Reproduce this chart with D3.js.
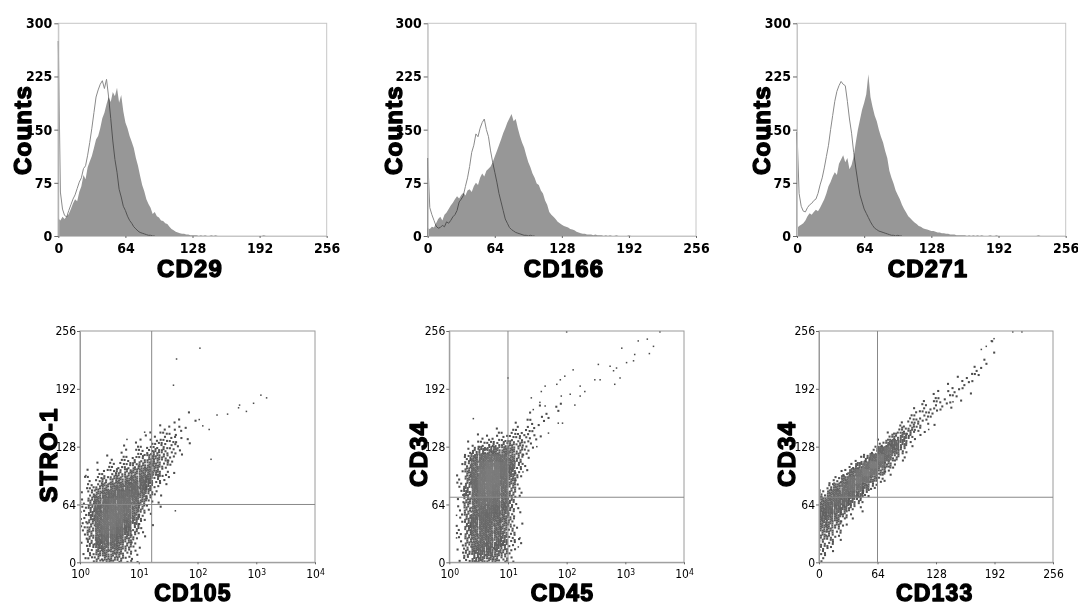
<!DOCTYPE html>
<html>
<head>
<meta charset="utf-8">
<script src="https://cdn.jsdelivr.net/npm/d3@7"></script>
<style>
  body { margin: 0; background: #fff; }
  svg { display: block; }
</style>
</head>
<body>
<svg id="chart" width="1078" height="605"></svg>
<script>
// ---------- Histogram data: counts per 2-channel bin (bin i = channels 2i..2i+2) ----------
const BIN = 2;
const cd29Stained = [25,22,27,24,28,31,38,46,52,49, 62,70,86,80,97,105,113,124,136,141,
  152,166,174,186,196,189,203,197,209,188, 199,176,160,152,141,133,124,110,99,85,
  72,63,52,45,40,31,34,28,26,22, 21,18,17,13,10,8,6,5,4,3, 3,2,2,1,1,1,1,0,1,0,
  1,0,0,1,0,1,0,0,0,0, 0,0,0,0,0,0,0,0,0,0, 0,0,0,0,0,0,0,0,1,0];
const cd29Control = [275,62,38,29,27,36,44,52,58,67, 76,82,95,99,114,132,152,174,196,206,
  214,219,208,221,196,166,134,108,90,66, 55,42,36,28,22,18,13,10,7,5, 4,3,2,1,1,0];

const cd166Stained = [11,10,13,12,18,24,27,22,30,33, 38,43,47,52,56,53,58,61,57,64,
  66,62,70,75,72,82,88,84,92,95, 98,104,112,120,128,136,145,152,160,166,
  172,162,165,152,141,132,125,114,104,97, 88,82,74,72,64,60,50,44,34,30,
  27,24,20,18,16,14,13,12,10,9, 8,6,5,4,3,3,2,2,2,1, 2,1,1,1,0,1,0,1,0,0,
  1,0,0,0,0,0,1,0,0,0];
const cd166Control = [110,40,30,22,14,11,12,15,13,20, 18,22,27,30,36,48,52,57,70,82,
  98,118,128,144,140,152,160,165,150,140, 120,104,90,76,60,48,36,24,18,12,
  9,7,5,4,3,2,1,1,0,1,0];

const cd271Stained = [11,14,16,18,22,28,32,30,34,37, 35,40,46,52,60,70,76,84,90,86,
  102,108,114,104,110,94,100,112,132,150, 164,178,188,200,228,196,182,170,162,150,
  140,132,120,110,92,82,74,64,58,52, 44,38,33,28,25,22,19,17,14,13,
  11,10,9,8,7,7,6,5,5,4, 4,3,3,2,2,2,1,1,1,1, 1,0,1,0,1,0,1,0,1,0,
  0,0,1,0,0,1,0,0,0,0, 0,0,0,0,0,0,0,0,0,0, 0,0,0,0,0,1,0];
const cd271Control = [147,60,42,35,34,40,44,46,50,52, 60,72,82,96,112,128,150,170,190,204,
  212,218,214,212,190,165,145,118,96,76, 58,48,38,32,26,20,15,11,9,7,
  6,5,4,3,2,1,1,0,1,0];

const histTicksY = [0, 75, 150, 225, 300];
const histTicksX = [0, 64, 128, 192, 256];

// ---------- Dot-plot data: event counts per cell ----------
// CD105 (log, 1/8 decade columns from 10^0) vs STRO-1 (8-channel rows from 0), rows listed bottom-up
const stroGrid = [
  [1,4,8,10,10,8,4,2,0,0,0,0,0,0,0,0],
  [1,5,11,14,14,11,6,2,0,0,0,0,0,0,0,0],
  [2,7,15,19,19,15,9,3,1,0,0,0,0,0,0,0],
  [2,8,18,24,24,19,12,5,1,0,0,0,0,0,0,0],
  [3,10,21,28,29,24,16,7,2,0,0,0,0,0,0,0],
  [3,10,22,29,31,28,20,10,3,1,0,0,0,0,0,0],
  [3,10,21,28,31,30,25,14,5,1,0,0,0,0,0,0],
  [3,9,19,26,30,30,27,18,8,2,1,0,0,0,0,0],
  [3,8,16,23,27,28,27,22,12,4,1,0,0,0,0,0],
  [2,6,12,18,22,24,25,24,16,7,2,1,0,0,0,0],
  [1,4,8,12,16,19,20,22,18,10,3,1,0,0,0,0],
  [1,2,4,7,10,12,14,17,19,14,6,2,1,0,0,0],
  [0,1,2,3,5,7,9,12,16,16,10,3,1,0,0,0],
  [0,0,1,1,3,4,5,7,10,14,12,5,2,0,0,0],
  [0,0,0,1,1,2,3,4,6,9,11,8,3,1,0,0],
  [0,0,0,0,0,1,1,2,3,5,8,7,4,1,0,0],
  [0,0,0,0,0,0,1,1,1,2,4,5,4,2,1,0],
  [0,0,0,0,0,0,0,0,1,1,2,3,3,2,1,0],
  [0,0,0,0,0,0,0,0,0,0,1,1,2,2,1,0],
  [0,0,0,0,0,0,0,0,0,0,0,0,1,1,0,1],
  [0,0,0,0,0,0,0,0,0,0,0,0,0,0,1,0]
];
const stroSingles = [[110,237],[44,225],[39,196],[1500,182],[1200,185],[900,176],[680,167],
  [500,171],[520,174],[325,164],[215,163],[170,114],[42,57],[107,158],[158,147],[123,151],
  [1.26,96],[6.3,136],[12.6,144]];

// CD45 (log) vs CD34, rows bottom-up
const cd45Grid = [
  [0,1,5,10,13,12,10,7,2,0,0,0,0,0,0,0],
  [0,2,7,13,17,15,13,9,3,0,0,0,0,0,0,0],
  [0,2,8,16,20,18,15,11,4,1,0,0,0,0,0,0],
  [0,2,9,17,22,20,17,12,5,1,0,0,0,0,0,0],
  [0,2,9,18,22,20,18,13,5,1,0,0,0,0,0,0],
  [0,2,9,18,22,21,19,14,6,1,0,0,0,0,0,0],
  [0,2,9,18,23,22,20,15,6,1,0,0,0,0,0,0],
  [0,2,9,18,24,24,22,16,7,1,0,0,0,0,0,0],
  [0,2,10,20,27,28,25,18,8,1,0,0,0,0,0,0],
  [0,2,11,22,30,32,29,21,9,2,0,0,0,0,0,0],
  [0,2,11,23,32,34,32,24,10,2,0,0,0,0,0,0],
  [0,2,11,23,32,35,33,26,12,3,0,0,0,0,0,0],
  [0,2,10,22,31,34,33,28,14,4,1,0,0,0,0,0],
  [0,1,8,19,28,32,32,28,16,6,1,0,0,0,0,0],
  [0,0,6,14,22,26,26,24,15,7,2,0,0,0,0,0],
  [0,0,2,7,11,13,14,15,13,8,3,1,0,0,0,0],
  [0,0,1,2,3,5,6,7,9,7,4,1,0,0,0,0],
  [0,0,0,1,1,2,2,3,4,5,4,2,1,0,0,0],
  [0,0,0,0,0,0,1,0,1,2,3,2,1,0,0,0],
  [0,0,0,0,0,0,0,0,0,1,1,2,1,1,0,0],
  [0,0,0,0,0,0,0,0,0,0,0,1,1,1,1,0],
  [0,0,0,0,0,0,0,0,0,0,0,0,1,0,1,1]
];
const cd45Singles = [[100,255],[3890,255],[1660,245],[2370,247],[2570,231],[3020,239],[1445,230],
  [1380,223],[1050,221],[870,237],[708,215],[630,212],[550,217],[813,204],[660,197],[347,219],
  [372,202],[302,202],[129,213],[93,206],[78,202],[68,197],[115,186],[170,195],[204,189],
  [170,184],[138,174],[81,184],[72,154],[85,154],[43,195],[37,189],[25,182],[35,177],[27,169],
  [43,173],[49,143],[31,128],[18,100],[15,17],[16,27],[10,204],[1.33,27],[1.33,52],[2.57,159]];

// CD133 (8-channel columns) vs CD34: [first row, counts upward]
const cd133Columns = [
  [0, [3,5,7,10,12,14,16,16,14,6]],
  [1, [2,5,8,11,14,17,20,20,16,6]],
  [3, [3,6,10,14,19,22,22,16,5]],
  [5, [3,8,14,20,25,25,16,4]],
  [6, [2,6,13,22,28,28,16,3]],
  [7, [2,6,15,26,32,28,12,2]],
  [9, [5,14,28,34,26,8]],
  [10, [5,14,28,34,22,5]],
  [11, [4,12,26,32,20,4]],
  [12, [3,10,22,26,14,2]],
  [13, [2,8,16,18,9,1]],
  [14, [2,6,12,12,6,1]],
  [16, [2,6,8,5,1]],
  [17, [2,5,5,3,1]],
  [18, [1,3,4,3,1]],
  [19, [1,3,3,2,1]],
  [20, [1,2,3,1]],
  [21, [1,2,2,1]],
  [21, [1,1,2,1,1]],
  [22, [1,1,2,1]],
  [23, [1,1,2,1]],
  [25, [1,2,1]],
  [26, [1,1,1]],
  [29, [1,1]]
];
const cd133Singles = [[146.6,177.6],[212,255],[222,255],[120,147],[188.5,245],[191.5,247.5],
  [183,239],[177.6,235.6]];

const dotTicksY = [0, 64, 128, 192, 256];
const logTicksX = [1, 10, 100, 1000, 10000];
const linTicksX = [0, 64, 128, 192, 256];

// quadrant gate positions [x, y]
const stroGate = [16.6, 64];
const cd45Gate = [10, 72];
const cd133Gate = [64, 72];

// ---------- drawing ----------
const svg = d3.select('#chart');
const NARROW = '"Liberation Sans Narrow","DejaVu Sans Condensed","Arial Narrow",sans-serif';
const HEAVY = '"Liberation Sans",Arial,"DejaVu Sans",sans-serif';

function heavyText(g, txt, x, y, rotate, size) {
  const t = g.append('text')
    .attr('x', x).attr('y', y)
    .attr('text-anchor', 'middle')
    .attr('font-family', HEAVY).attr('font-weight', 'bold')
    .attr('font-size', size || 24).attr('letter-spacing', 1.2)
    .attr('fill', '#000').attr('stroke', '#000').attr('stroke-width', 1.4)
    .attr('stroke-linejoin', 'round')
    .text(txt);
  if (rotate) t.attr('transform', `rotate(-90 ${x} ${y})`);
  return t;
}

const histPanels = [
  { title: 'CD29', stained: cd29Stained, control: cd29Control, x0: 58.3, x1: 326.7, titleX: 190, countsX: 31 },
  { title: 'CD166', stained: cd166Stained, control: cd166Control, x0: 427.7, x1: 696, titleX: 564, countsX: 401.5 },
  { title: 'CD271', stained: cd271Stained, control: cd271Control, x0: 797, x1: 1065.7, titleX: 928, countsX: 769.5 }
];

// profile points at bin starts, closed down to the baseline at the end
function profilePoints(arr) {
  const pts = arr.map((v, i) => [i * BIN, v]);
  pts.push([arr.length * BIN, 0]);
  return pts;
}

histPanels.forEach((p) => {
  const top = 23.3, bottom = 236;
  const x = d3.scaleLinear().domain([0, 256]).range([p.x0, p.x1]);
  const y = d3.scaleLinear().domain([0, 300]).range([bottom, top]);
  const g = svg.append('g');

  g.append('rect').attr('x', p.x0).attr('y', top)
    .attr('width', p.x1 - p.x0).attr('height', bottom - top)
    .attr('fill', 'none').attr('stroke', '#c6c6c6').attr('stroke-width', 1);

  const area = d3.area().x(d => x(d[0])).y0(bottom).y1(d => y(d[1]));
  const line = d3.line().x(d => x(d[0])).y(d => y(d[1]));

  g.append('path').datum(profilePoints(p.stained))
    .attr('d', area).attr('fill', '#979797');
  // control trace rises from the baseline at channel 0
  g.append('path').datum([[0, 0], ...profilePoints(p.control)])
    .attr('d', line).attr('fill', 'none').attr('stroke', '#8a8a8a').attr('stroke-width', 1)
    .attr('stroke-linejoin', 'bevel')
    .style('mix-blend-mode', 'multiply');

  const ay = g.append('g').attr('transform', `translate(${p.x0},0)`)
    .call(d3.axisLeft(y).tickValues(histTicksY).tickSize(4).tickSizeOuter(0).tickPadding(2));
  const ax = g.append('g').attr('transform', `translate(0,${bottom})`)
    .call(d3.axisBottom(x).tickValues(histTicksX).tickSize(2).tickSizeOuter(0).tickPadding(5));
  [ay, ax].forEach(a => {
    a.select('.domain').attr('stroke', '#c6c6c6');
    a.selectAll('.tick line').attr('stroke', '#666');
    a.selectAll('text').attr('font-family', NARROW).attr('font-weight', 'bold')
      .attr('font-size', 14).attr('fill', '#000');
  });

  heavyText(g, 'Counts', p.countsX, 130, true);
  heavyText(g, p.title, p.titleX, 277.3, false);
});

// dot placement inside a cell: additive recurrence (plastic-number sequence)
function cellOffsets(n, cellIndex) {
  const a1 = 0.7548776662466927, a2 = 0.5698402909980532;
  const s1 = (cellIndex * 0.6180339887) % 1, s2 = (cellIndex * 0.4142135624) % 1;
  const out = [];
  for (let k = 1; k <= n; k++) out.push([(s1 + k * a1) % 1, (s2 + k * a2) % 1]);
  return out;
}
const dotColor = n => d3.interpolateRgb('#4a4a4a', '#7c7c7c')(Math.min(1, n / 34));
const DOT = 2.05, SINGLE = 1.5;

const dotPanels = [
  { xTitle: 'CD105', yTitle: 'STRO-1', log: true, cells: stroGrid, singles: stroSingles, gate: stroGate,
    x0: 80, x1: 315, titleX: 193, yTitleX: 56.5, yTitleY: 455 },
  { xTitle: 'CD45', yTitle: 'CD34', log: true, cells: cd45Grid, singles: cd45Singles, gate: cd45Gate,
    x0: 449.3, x1: 684, titleX: 562.5, yTitleX: 426.5, yTitleY: 454 },
  { xTitle: 'CD133', yTitle: 'CD34', log: false, columns: cd133Columns, singles: cd133Singles, gate: cd133Gate,
    x0: 819, x1: 1053, titleX: 934.7, yTitleX: 795, yTitleY: 454 }
];

dotPanels.forEach((p, k) => {
  const top = 331, bottom = 562.3;
  const x = p.log
    ? d3.scaleLog().domain([1, 1e4]).range([p.x0, p.x1])
    : d3.scaleLinear().domain([0, 256]).range([p.x0, p.x1]);
  const y = d3.scaleLinear().domain([0, 256]).range([bottom, top]);
  const g = svg.append('g');
  const clipId = 'clip' + k;
  g.append('clipPath').attr('id', clipId).append('rect')
    .attr('x', p.x0).attr('y', top).attr('width', p.x1 - p.x0).attr('height', bottom - top);

  // collect events
  const dots = [];
  const addCell = (colIdx, rowIdx, n, idx) => {
    cellOffsets(n, idx).forEach(([u, v]) => {
      const xv = p.log ? Math.pow(10, (colIdx + u) * 0.125) : (colIdx + u) * 8;
      const yv = (rowIdx + v) * 8;
      dots.push({ x: xv, y: yv, c: dotColor(n), s: DOT });
    });
  };
  if (p.cells) {
    p.cells.forEach((row, r) => row.forEach((n, c) => { if (n) addCell(c, r, n, r * 40 + c + k * 1000); }));
  } else {
    p.columns.forEach(([start, counts], c) => counts.forEach((n, j) => { if (n) addCell(c, start + j, n, (start + j) * 40 + c + k * 1000); }));
  }
  p.singles.forEach(([xv, yv]) => dots.push({ x: xv, y: yv, c: '#4a4a4a', s: SINGLE }));

  g.append('g').attr('clip-path', `url(#${clipId})`)
    .selectAll('rect').data(dots).join('rect')
    .attr('x', d => x(d.x) - d.s / 2).attr('y', d => y(d.y) - d.s / 2)
    .attr('width', d => d.s).attr('height', d => d.s).attr('fill', d => d.c);

  // frame and quadrant gates
  g.append('rect').attr('x', p.x0).attr('y', top)
    .attr('width', p.x1 - p.x0).attr('height', bottom - top)
    .attr('fill', 'none').attr('stroke', '#9a9a9a').attr('stroke-width', 1);
  g.append('line').attr('x1', x(p.gate[0])).attr('x2', x(p.gate[0]))
    .attr('y1', top).attr('y2', bottom).attr('stroke', '#888').attr('stroke-width', 1);
  g.append('line').attr('x1', p.x0).attr('x2', p.x1)
    .attr('y1', y(p.gate[1])).attr('y2', y(p.gate[1])).attr('stroke', '#888').attr('stroke-width', 1);

  const ay = g.append('g').attr('transform', `translate(${p.x0},0)`)
    .call(d3.axisLeft(y).tickValues(dotTicksY).tickSize(3).tickSizeOuter(0).tickPadding(1));
  const axisX = d3.axisBottom(x).tickSize(2).tickSizeOuter(0).tickPadding(5);
  if (p.log) axisX.tickValues(logTicksX).tickFormat(() => '');
  else axisX.tickValues(linTicksX);
  const ax = g.append('g').attr('transform', `translate(0,${bottom})`).call(axisX);
  [ay, ax].forEach(a => {
    a.select('.domain').attr('stroke', '#9a9a9a');
    a.selectAll('.tick line').attr('stroke', '#666');
    a.selectAll('text').attr('font-family', NARROW).attr('font-size', 12).attr('fill', '#000');
  });
  if (p.log) {
    ax.selectAll('.tick text').each(function (d) {
      const t = d3.select(this);
      t.text(null);
      t.append('tspan').text('10');
      t.append('tspan').attr('dy', '-0.36em').attr('font-size', 8.5).text(Math.round(Math.log10(d)));
    });
  }

  heavyText(g, p.yTitle, p.yTitleX, p.yTitleY, true);
  heavyText(g, p.xTitle, p.titleX, 601, false, 23);
});
</script>
</body>
</html>
